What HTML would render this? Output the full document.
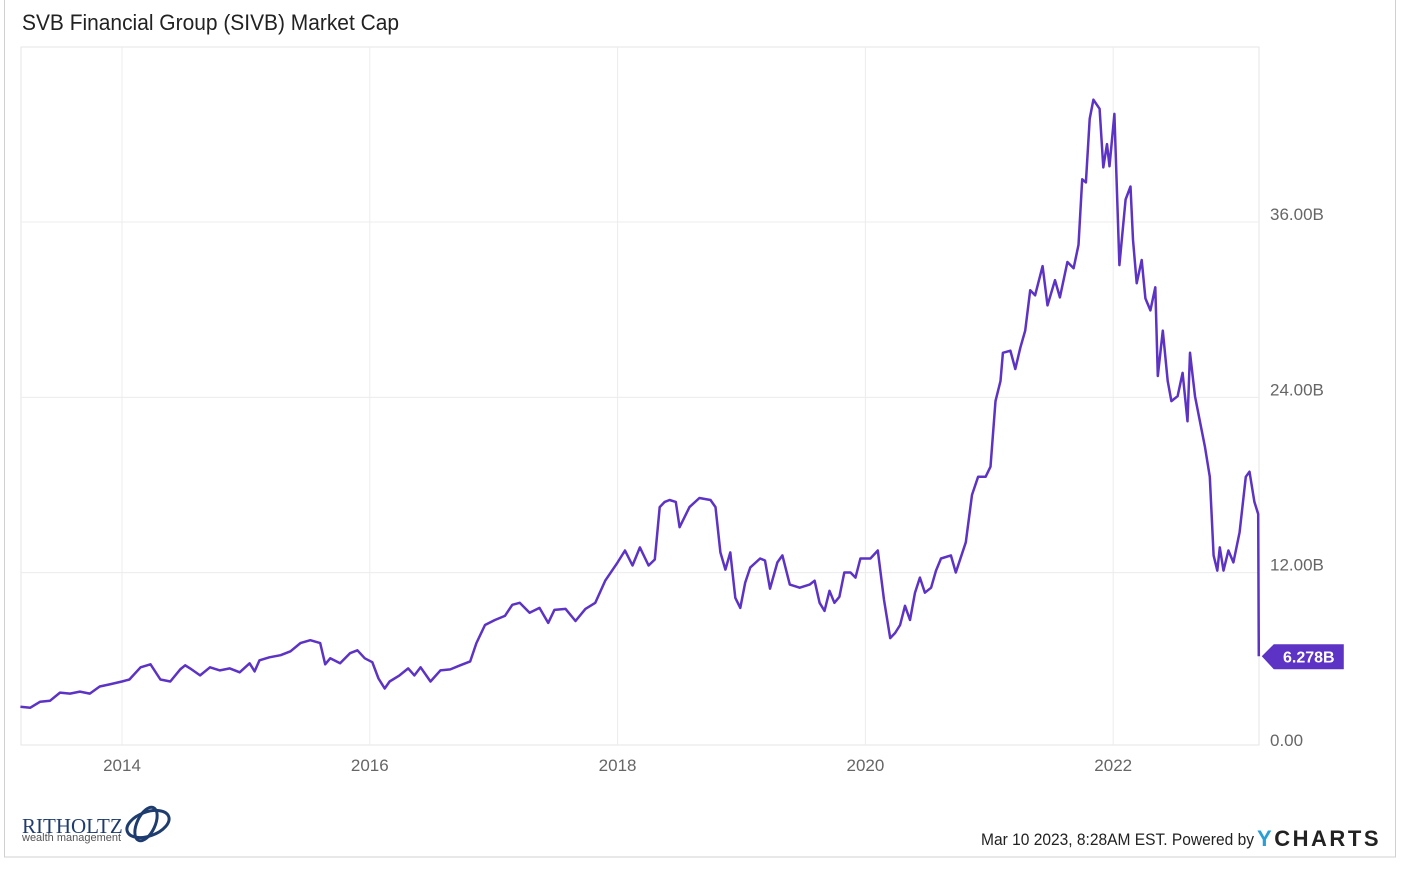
<!DOCTYPE html>
<html><head><meta charset="utf-8"><style>
body{margin:0;background:#fff;font-family:"Liberation Sans",sans-serif;}
#wrap{position:relative;width:1414px;height:870px;}
</style></head><body>
<div id="wrap">
<svg id="chart" width="1414" height="870">
<rect x="4.5" y="-1" width="1391" height="858" fill="none" stroke="#d0d0d0"/>
<text x="22" y="30" font-size="22" fill="#222" textLength="377" lengthAdjust="spacingAndGlyphs">SVB Financial Group (SIVB) Market Cap</text>
<rect x="21" y="47" width="1238" height="698" fill="none" stroke="#e6e6e6"/>
<g id="grid"></g><g id="yt"></g><g id="xt"></g>
<path id="line" fill="none" stroke="#5c33c4" stroke-width="2.5" stroke-linejoin="round"/>
<g id="tag"></g>
<text x="22" y="833" font-family="Liberation Serif,serif" font-size="21" fill="#1f3c6e">RITHOLTZ</text>
<text x="22" y="841" font-size="11" fill="#555">wealth management</text>
<g fill="none" stroke="#1f3c6e" stroke-width="3"><ellipse cx="148" cy="824" rx="22" ry="12" transform="rotate(-20 148 824)"/><ellipse cx="146" cy="824" rx="9" ry="18" transform="rotate(25 146 824)"/></g>
<text x="981" y="845" font-size="17" fill="#222" textLength="273" lengthAdjust="spacingAndGlyphs">Mar 10 2023, 8:28AM EST. Powered by</text>
<text x="1257" y="846" font-size="22" font-weight="bold" fill="#222" letter-spacing="1.5" textLength="123"><tspan fill="#2a9fd6">Y</tspan>CHARTS</text>
</svg></div>
<script>
const years=[2013.18,2013.26,2013.34,2013.42,2013.50,2013.58,2013.66,2013.74,2013.82,2013.90,2014.00,2014.06,2014.15,2014.23,2014.31,2014.39,2014.47,2014.51,2014.55,2014.63,2014.71,2014.79,2014.87,2014.95,2015.03,2015.07,2015.11,2015.19,2015.28,2015.36,2015.44,2015.52,2015.60,2015.64,2015.68,2015.76,2015.84,2015.90,2015.96,2016.02,2016.07,2016.12,2016.16,2016.24,2016.31,2016.36,2016.41,2016.49,2016.57,2016.65,2016.73,2016.81,2016.86,2016.93,2017.01,2017.09,2017.15,2017.21,2017.29,2017.37,2017.44,2017.49,2017.58,2017.66,2017.74,2017.82,2017.90,2018.00,2018.06,2018.12,2018.18,2018.25,2018.30,2018.34,2018.38,2018.42,2018.47,2018.50,2018.58,2018.66,2018.75,2018.79,2018.83,2018.87,2018.91,2018.95,2018.99,2019.03,2019.07,2019.15,2019.19,2019.23,2019.29,2019.33,2019.39,2019.47,2019.55,2019.59,2019.63,2019.67,2019.71,2019.75,2019.79,2019.83,2019.88,2019.92,2019.96,2020.04,2020.10,2020.15,2020.20,2020.24,2020.28,2020.32,2020.36,2020.40,2020.44,2020.48,2020.53,2020.57,2020.61,2020.69,2020.73,2020.81,2020.86,2020.91,2020.97,2021.01,2021.05,2021.09,2021.11,2021.17,2021.21,2021.25,2021.29,2021.33,2021.37,2021.43,2021.47,2021.53,2021.57,2021.63,2021.68,2021.72,2021.75,2021.78,2021.81,2021.84,2021.89,2021.92,2021.95,2021.97,2022.01,2022.05,2022.10,2022.14,2022.16,2022.19,2022.23,2022.26,2022.30,2022.34,2022.36,2022.40,2022.44,2022.47,2022.52,2022.56,2022.60,2022.62,2022.66,2022.70,2022.74,2022.78,2022.81,2022.84,2022.86,2022.89,2022.93,2022.97,2023.02,2023.07,2023.10,2023.14,2023.17,2023.175];
const values=[2.83,2.76,3.17,3.24,3.79,3.72,3.86,3.72,4.21,4.35,4.55,4.69,5.52,5.73,4.69,4.55,5.38,5.66,5.45,4.97,5.52,5.31,5.45,5.18,5.80,5.24,6.00,6.21,6.35,6.62,7.18,7.38,7.18,5.73,6.14,5.80,6.49,6.69,6.14,5.87,4.76,4.07,4.55,4.97,5.45,4.97,5.52,4.55,5.31,5.38,5.66,5.93,7.18,8.42,8.76,9.04,9.80,9.94,9.25,9.59,8.56,9.45,9.52,8.69,9.52,9.94,11.45,12.70,13.52,12.49,13.73,12.49,12.90,16.49,16.84,16.97,16.84,15.11,16.49,17.11,16.97,16.49,13.39,12.21,13.39,10.28,9.59,11.32,12.35,12.97,12.83,10.90,12.70,13.18,11.18,10.97,11.18,11.45,9.94,9.38,10.76,9.94,10.35,12.01,12.01,11.66,12.97,12.97,13.52,10.14,7.52,7.87,8.42,9.73,8.76,10.63,11.66,10.63,10.97,12.14,12.97,13.18,12.01,14.08,17.32,18.56,18.56,19.25,23.74,25.12,27.05,27.19,25.94,27.39,28.57,31.33,30.98,32.98,30.29,32.02,30.84,33.26,32.84,34.43,38.92,38.71,43.06,44.37,43.75,39.74,41.33,39.81,43.40,33.05,37.54,38.43,34.78,31.81,33.40,30.77,29.95,31.53,25.46,28.57,25.12,23.74,24.08,25.67,22.36,27.05,24.08,22.36,20.63,18.56,13.18,12.14,13.73,12.14,13.52,12.70,14.77,18.56,18.91,16.84,16.01,6.278];
const yTicks=[0,12,24,36];
const yTickLabels=["0.00","12.00B","24.00B","36.00B"];
const xTicks=[2014,2016,2018,2020,2022];
const lastLabel="6.278B";
const NS="http://www.w3.org/2000/svg";
const X=v=>122+(v-2014)*123.9;
const Y=v=>748-v*526/36;
function mk(t,a,p){const e=document.createElementNS(NS,t);for(const k in a)e.setAttribute(k,a[k]);document.getElementById(p).appendChild(e);return e;}
yTicks.forEach((t,i)=>{
 if(t>0){const g=mk('line',{x1:21,x2:1259,y1:Y(t),y2:Y(t),stroke:'#ececec'},'grid');
 
 }
 const l=mk('text',{x:1270,y:Y(t)-2,'font-size':17,fill:'#666'},'yt');
 
 
 l.textContent=yTickLabels[i];
});
xTicks.forEach(t=>{
 const g=mk('line',{x1:X(t),x2:X(t),y1:47,y2:745,stroke:'#ececec'},'grid');
 
 
 const l=mk('text',{x:X(t),y:771,'font-size':17,fill:'#666','text-anchor':'middle'},'xt');
 
 
 l.textContent=t;
});
document.getElementById('line').setAttribute('d',years.map((y,i)=>(i?'L':'M')+X(y).toFixed(1)+','+Y(values[i]).toFixed(1)).join(''));
const ly=Y(values[values.length-1]), lx=X(years[years.length-1]);
const tg=mk('path',{d:`M${lx+3},${ly} L${lx+15},${ly-12} L${lx+85},${ly-12} L${lx+85},${ly+13} L${lx+15},${ly+13} Z`,fill:'#5c33c4'},'tag');


const tt=mk('text',{x:lx+50,y:ly+6,'font-size':16,'font-weight':'bold',fill:'#fff','text-anchor':'middle'},'tag');


tt.textContent=lastLabel;
</script>
</body></html>
